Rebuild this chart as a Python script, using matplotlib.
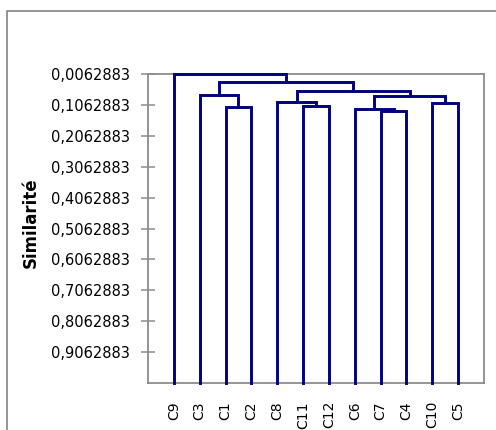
import matplotlib
matplotlib.use('Agg')
import matplotlib.pyplot as plt
from matplotlib.lines import Line2D

# leaf order along the x axis
leaves = ['C9', 'C3', 'C1', 'C2', 'C8', 'C11', 'C12', 'C6', 'C7', 'C4', 'C10', 'C5']
leaf_level = 1.0062883

# merges (names 'n1'.. refer to earlier merges)
link_left = ['C1', 'C7', 'C6', 'C11', 'C8', 'C10', 'n3', 'C3', 'n5', 'n8', 'C9']
link_right = ['C2', 'C4', 'n2', 'C12', 'n4', 'C5', 'n6', 'n1', 'n7', 'n9', 'n10']
link_height = [0.1140, 0.1257, 0.1205, 0.1108, 0.0979, 0.1011, 0.0773, 0.0753, 0.0624, 0.0321, 0.0063]

yticks = [0.0062883 + 0.1 * k for k in range(10)]
ytick_labels = ['0,0062883', '0,1062883', '0,2062883', '0,3062883', '0,4062883',
                '0,5062883', '0,6062883', '0,7062883', '0,8062883', '0,9062883']

line_color = '#000080'
grey = '#8c8c8c'

fig = plt.figure(figsize=(4.96, 4.30), dpi=100)
ax = fig.add_axes([148 / 496, 1 - 383 / 430, 336 / 496, 309 / 430])

# node positions
pos = {name: i + 1 for i, name in enumerate(leaves)}
height = {name: leaf_level for name in leaves}
for i, (a, b, h) in enumerate(zip(link_left, link_right, link_height)):
    xa, xb = pos[a], pos[b]
    ax.plot([xa, xa, xb, xb], [height[a], h, h, height[b]],
            color=line_color, linewidth=2.1, solid_joinstyle='miter', clip_on=False, zorder=3)
    node = 'n%d' % (i + 1)
    pos[node] = (xa + xb) / 2
    height[node] = h

ax.set_xlim(0, 13)
ax.set_ylim(1.0062883, 0.0062883)

ax.set_xticks(range(1, len(leaves) + 1))
ax.set_xticklabels(leaves, rotation=90, fontsize=10)
ax.tick_params(axis='x', length=0, pad=13)

ax.set_yticks(yticks)
ax.set_yticklabels(ytick_labels, fontsize=10.5)
ax.tick_params(axis='y', direction='inout', length=10, width=1.1, color=grey, pad=8)

for s in ax.spines.values():
    s.set_color(grey)
    s.set_linewidth(1.3)

ax.set_ylabel('Similarité', fontsize=12, fontweight='bold')
ax.yaxis.set_label_coords(-0.321, 0.518)

# outer chart frame (cut by the image edge)
fig.add_artist(Line2D([7 / 496, 7 / 496, 1.0], [0.0, 1 - 11 / 430, 1 - 11 / 430],
                      transform=fig.transFigure, color=grey, linewidth=1.3))

fig.savefig('out.png', dpi=100)
